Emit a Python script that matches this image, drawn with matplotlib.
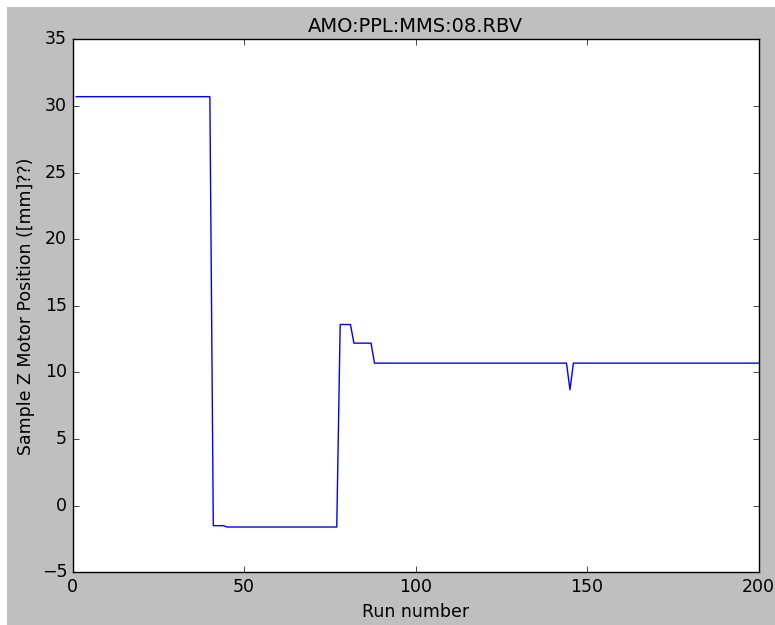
import matplotlib
matplotlib.use('Agg')
import matplotlib.pyplot as plt
from matplotlib.patches import Rectangle

# run numbers where the motor position changes, and the position there
runs = [1, 40, 41, 44, 45, 77, 78, 81, 82, 87, 88, 144, 145, 146, 200]
position = [30.7, 30.7, -1.5, -1.5, -1.6, -1.6, 13.6, 13.6, 12.2, 12.2,
            10.7, 10.7, 8.7, 10.7, 10.7]

plt.style.use('classic')
fig = plt.figure(figsize=(7.75, 6.25), dpi=100, facecolor='white')
# grey figure area with a thin white border on top and left
fig.patches.append(Rectangle((7 / 775, 0), 1, 1 - 7 / 625,
                             transform=fig.transFigure, facecolor='#bfbfbf',
                             edgecolor='none', zorder=-10))

ax = fig.add_axes([0.0938, 0.0843, 0.885, 0.8527])
ax.plot(runs, position, color='b', linewidth=1.0)

ax.set_xlim(0, 200)
ax.set_ylim(-5, 35)
ax.tick_params(labelsize=12.5)
ax.set_xlabel('Run number', fontsize=12.5)
ax.set_ylabel('Sample Z Motor Position ([mm]??)', fontsize=12.5)
ax.set_title('AMO:PPL:MMS:08.RBV', fontsize=14)

fig.savefig('out.png', dpi=100, facecolor=fig.get_facecolor())
